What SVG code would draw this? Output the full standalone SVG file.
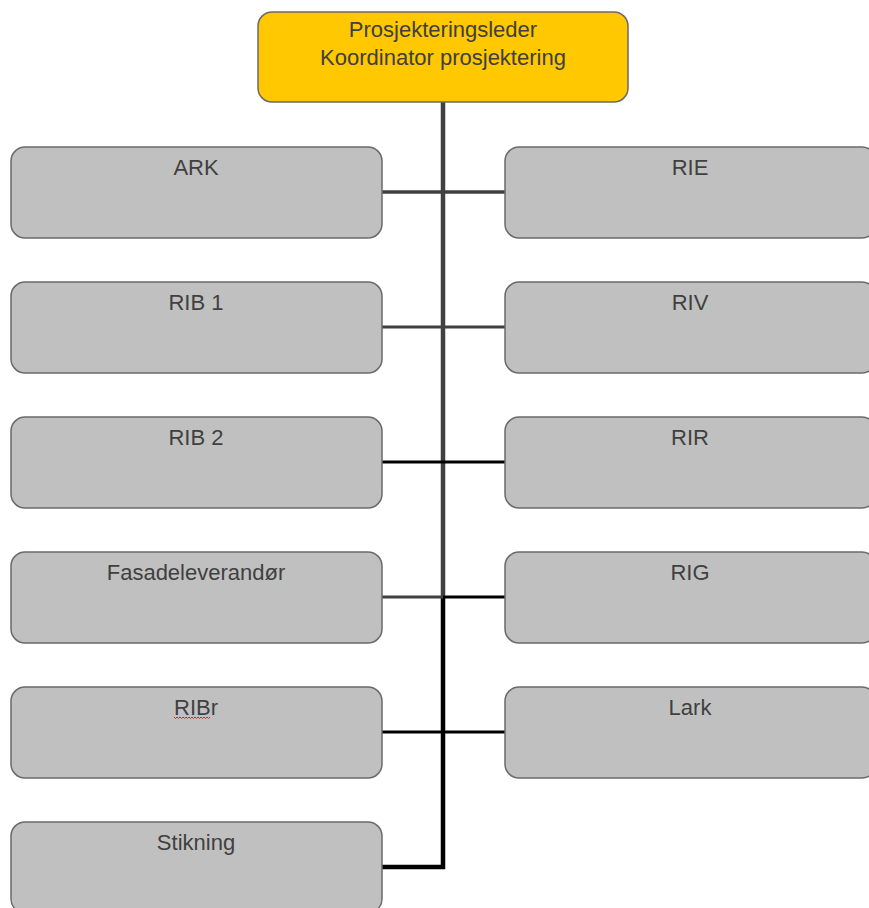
<svg xmlns="http://www.w3.org/2000/svg" width="869" height="908" viewBox="0 0 869 908">
<style>
.n{fill:#c0c0c0;stroke:#6a6a6a;stroke-width:1.5}
.top{fill:#ffc800;stroke:#6a6a6a;stroke-width:1.5}
.t{font-family:"Liberation Sans",Arial,sans-serif;font-size:22px;fill:#404040;text-anchor:middle}
.g{stroke:#404040;fill:none}
.k{stroke:#000;fill:none}
</style>
<rect width="869" height="908" fill="#fff"/>
<g id="connectors">
<line class="g" x1="443" y1="102" x2="443" y2="597" stroke-width="4.5"/>
<polyline class="k" points="443,596 443,867 382,867" stroke-width="4.5"/>
<line class="g" x1="382" y1="192" x2="505" y2="192" stroke-width="3.5"/>
<line class="g" x1="382" y1="327" x2="505" y2="327" stroke-width="3"/>
<line class="k" x1="382" y1="462" x2="505" y2="462" stroke-width="3"/>
<line class="g" x1="382" y1="597" x2="443" y2="597" stroke-width="3"/>
<line class="k" x1="443" y1="597" x2="505" y2="597" stroke-width="3"/>
<line class="k" x1="382" y1="732" x2="505" y2="732" stroke-width="3"/>
</g>
<g id="leder"><rect class="top" x="258" y="12" width="370" height="90" rx="14"/><text class="t" x="443" y="37">Prosjekteringsleder</text><text class="t" x="443" y="65">Koordinator prosjektering</text></g>
<g id="ark"><rect class="n" x="11" y="147" width="371" height="91" rx="14"/><text class="t" x="196" y="175">ARK</text></g>
<g id="rib1"><rect class="n" x="11" y="282" width="371" height="91" rx="14"/><text class="t" x="196" y="310">RIB 1</text></g>
<g id="rib2"><rect class="n" x="11" y="417" width="371" height="91" rx="14"/><text class="t" x="196" y="445">RIB 2</text></g>
<g id="fasade"><rect class="n" x="11" y="552" width="371" height="91" rx="14"/><text class="t" x="196" y="580">Fasadeleverandør</text></g>
<g id="ribr"><rect class="n" x="11" y="687" width="371" height="91" rx="14"/><text class="t" x="196" y="715">RIBr</text><path d="M174,717 l1.5,1.5 l1.5,-1.5 l1.5,1.5 l1.5,-1.5 l1.5,1.5 l1.5,-1.5 l1.5,1.5 l1.5,-1.5 l1.5,1.5 l1.5,-1.5 l1.5,1.5 l1.5,-1.5 l1.5,1.5 l1.5,-1.5 l1.5,1.5 l1.5,-1.5 l1.5,1.5 l1.5,-1.5 l1.5,1.5 l1.5,-1.5 l1.5,1.5 l1.5,-1.5 l1.5,1.5 l1.5,-1.5" fill="none" stroke="#e02020" stroke-width="1"/></g>
<g id="stikning"><rect class="n" x="11" y="822" width="371" height="91" rx="14"/><text class="t" x="196" y="850">Stikning</text></g>
<g id="rie"><rect class="n" x="505" y="147" width="371" height="91" rx="14"/><text class="t" x="690" y="175">RIE</text></g>
<g id="riv"><rect class="n" x="505" y="282" width="371" height="91" rx="14"/><text class="t" x="690" y="310">RIV</text></g>
<g id="rir"><rect class="n" x="505" y="417" width="371" height="91" rx="14"/><text class="t" x="690" y="445">RIR</text></g>
<g id="rig"><rect class="n" x="505" y="552" width="371" height="91" rx="14"/><text class="t" x="690" y="580">RIG</text></g>
<g id="lark"><rect class="n" x="505" y="687" width="371" height="91" rx="14"/><text class="t" x="690" y="715">Lark</text></g>
</svg>
